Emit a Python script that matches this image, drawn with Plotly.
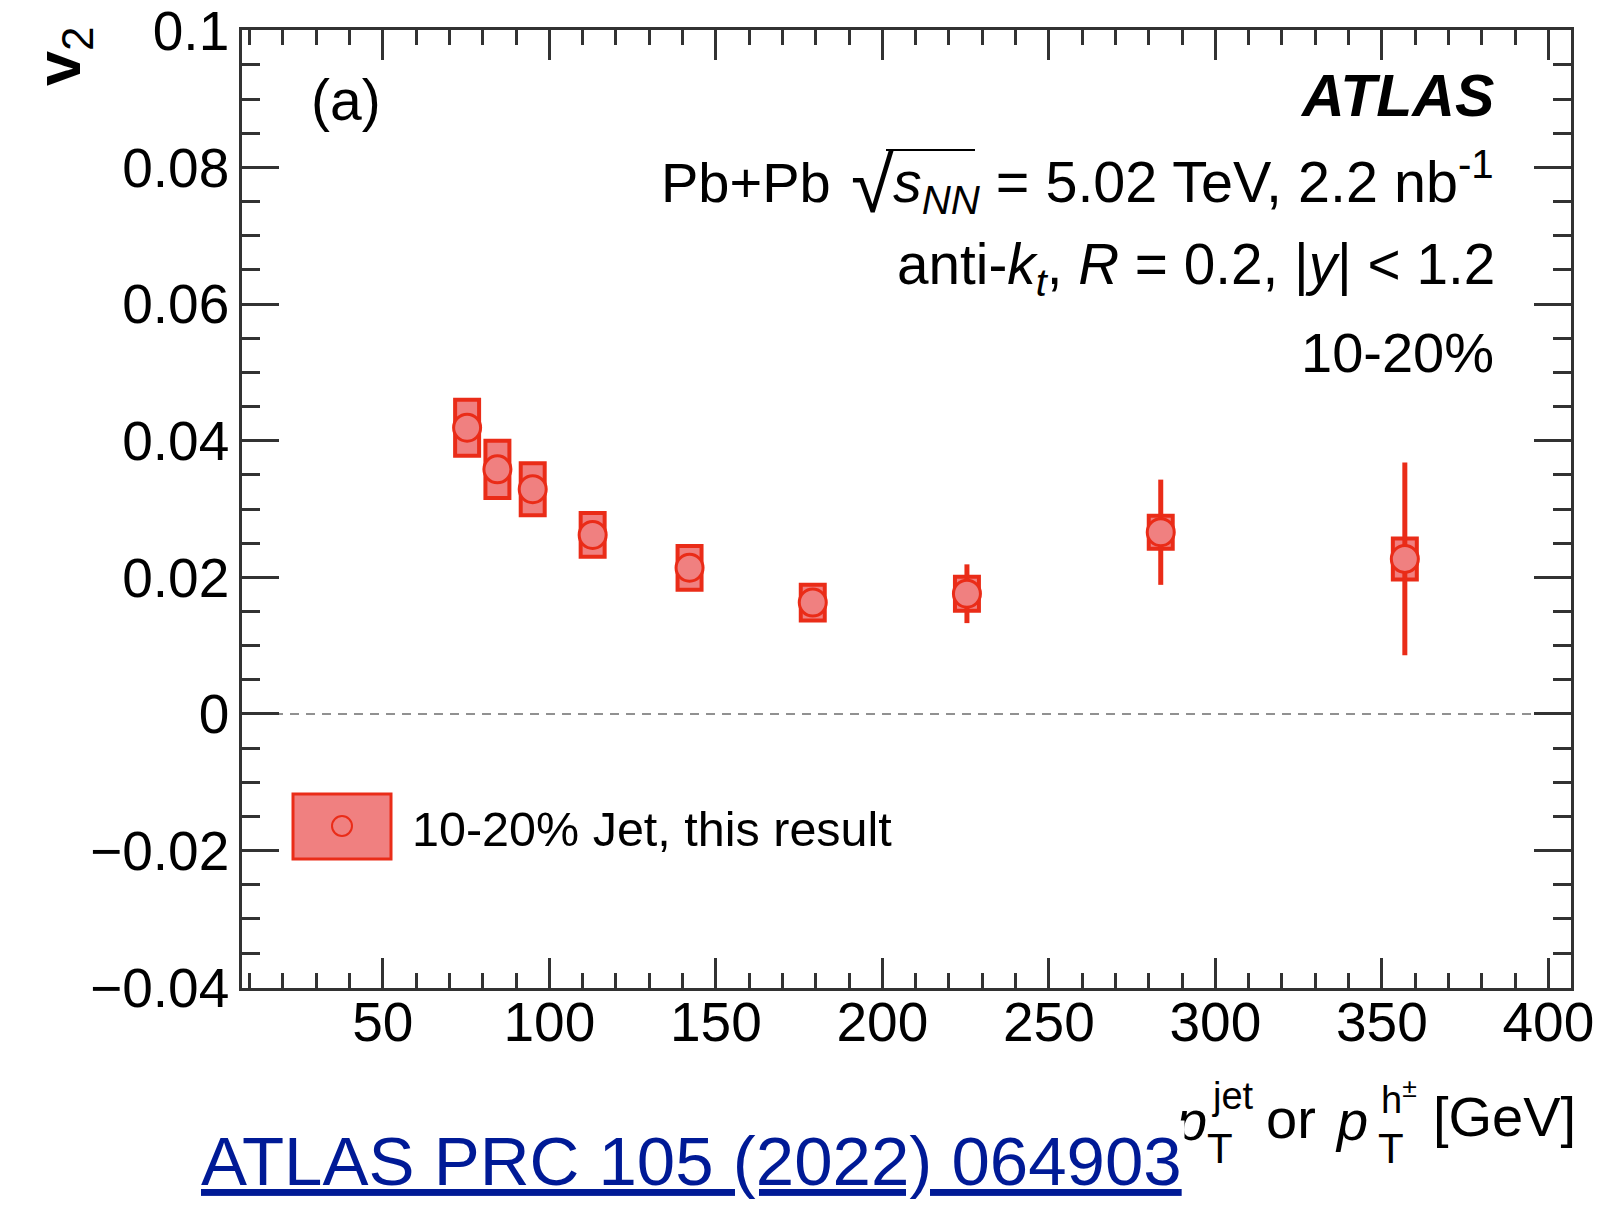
import plotly.graph_objects as go

# ---- data ----
pt = [75.3, 84.4, 95.0, 113.0, 142.1, 179.1, 225.4, 283.6, 356.9]
v2 = [0.0419, 0.0358, 0.0329, 0.0262, 0.0214, 0.0163, 0.0176, 0.0266, 0.0227]
v2_sys = [0.0041, 0.0042, 0.0038, 0.0032, 0.0032, 0.0026, 0.0025, 0.0024, 0.0030]
v2_stat = [0.0018, 0.0015, 0.0014, 0.0012, 0.0010, 0.0008, 0.0043, 0.0077, 0.0141]
box_halfwidth = 3.6  # GeV

x_tickvals = [50, 100, 150, 200, 250, 300, 350, 400]
x_ticktext = ["50", "100", "150", "200", "250", "300", "350", "400"]
y_tickvals = [-0.04, -0.02, 0, 0.02, 0.04, 0.06, 0.08, 0.1]
y_ticktext = ["\u22120.04", "\u22120.02", "0", "0.02", "0.04", "0.06", "0.08", "0.1"]

W, H = 1615, 1209
L, R, T, B = 242, 44, 30, 221
PW, PH = W - L - R, H - T - B

RED = "rgb(234,44,24)"
PINK = "rgb(240,128,128)"
FONT = "Liberation Sans"
AXC = "rgb(50,50,50)"


def px(xp):
    return (xp - L) / PW


def py(yp):
    return (H - B - yp) / PH


fig = go.Figure()

shapes = []
# zero dashed line
shapes.append(dict(type="line", xref="x domain", yref="y", x0=0, x1=1, y0=0, y1=0,
                   line=dict(color="rgb(110,110,110)", width=1.5, dash="9px,7px"), layer="below"))
# systematic boxes
for xv, yv, s in zip(pt, v2, v2_sys):
    shapes.append(dict(type="rect", xref="x", yref="y",
                       x0=xv - box_halfwidth, x1=xv + box_halfwidth, y0=yv - s, y1=yv + s,
                       fillcolor=PINK, line=dict(color=RED, width=4), layer="below"))

fig.add_trace(go.Scatter(
    x=pt, y=v2, mode="markers",
    error_y=dict(type="data", array=v2_stat, color=RED, thickness=5, width=0),
    marker=dict(symbol="circle", size=27, color=PINK, line=dict(color=RED, width=3)),
    showlegend=False, cliponaxis=False,
))

# legend (drawn manually, ROOT style)
shapes.append(dict(type="rect", xref="paper", yref="paper",
                   x0=px(293), x1=px(391), y0=py(859), y1=py(794),
                   fillcolor=PINK, line=dict(color=RED, width=3)))
shapes.append(dict(type="circle", xref="paper", yref="paper",
                   x0=px(332), x1=px(352), y0=py(836), y1=py(816),
                   fillcolor="rgba(0,0,0,0)", line=dict(color=RED, width=2)))

# sqrt overline
shapes.append(dict(type="line", xref="paper", yref="paper",
                   x0=px(886), x1=px(975), y0=py(150), y1=py(150),
                   line=dict(color="black", width=2)))

annotations = []


def ann(text, x, y, size, xanchor="left", yanchor="middle", color="black", **kw):
    annotations.append(dict(text=text, x=px(x), y=py(y), xref="paper", yref="paper",
                            xanchor=xanchor, yanchor=yanchor, showarrow=False,
                            font=dict(family=FONT, size=size, color=color), **kw))


ann("(a)", 309, 100, 57)
ann("<b><i>ATLAS</i></b>", 1496, 96, 59, xanchor="right")
ann("Pb+Pb", 833, 183, 56, xanchor="right")
ann("\u221a", 849, 185, 78)
ann("<i>s</i><sub><i>NN</i></sub> = 5.02 TeV, 2.2 nb<sup>-1</sup>", 1496, 183, 57.5, xanchor="right")
ann("anti-<i>k</i><sub><i>t</i></sub>, <i>R</i> = 0.2, |<i>y</i>| < 1.2", 1497, 268, 56.7, xanchor="right")
ann("10-20%", 1496, 352, 56, xanchor="right")
ann("10-20% Jet, this result", 410, 829, 48.5)

# y-axis title
ann("<b>v</b><sub>2</sub>", 62, 56, 63, xanchor="center", textangle=-90)

# x-axis title pieces
ann("<i>p</i>", 1172, 1120, 56)
ann("jet", 1210, 1096, 38)
ann("T", 1205, 1148, 42)
ann("or", 1264, 1118, 56)
ann("<i>p</i>", 1333, 1120, 56)
ann("h<sup>\u00b1</sup>", 1379, 1097, 38)
ann("T", 1376, 1148, 42)
ann("[GeV]", 1431, 1116, 56)

# link text on top
ann("<u>ATLAS PRC 105 (2022) 064903</u>", 198, 1162, 69, color="rgb(0,26,150)",
    bgcolor="white", borderpad=2)

axis_common = dict(showline=True, linecolor=AXC, linewidth=2.5, mirror="allticks",
                   ticks="inside", tickcolor=AXC, tickwidth=2.5, showgrid=False,
                   zeroline=False, tickfont=dict(family=FONT, size=55, color="black"),
                   tickmode="array", ticklabeloverflow="allow", automargin=False)

fig.update_layout(
    width=W, height=H, margin=dict(l=L, r=R, t=T, b=B, autoexpand=False),
    paper_bgcolor="white", plot_bgcolor="white",
    xaxis=dict(range=[7.7, 406.8], tickvals=x_tickvals, ticktext=x_ticktext, ticklen=30,
               minor=dict(dtick=10, tick0=0, ticklen=15, ticks="inside", tickcolor=AXC,
                          tickwidth=2.5, showgrid=False),
               ticklabelstandoff=-16,
               **axis_common),
    yaxis=dict(range=[-0.0401, 0.1001], tickvals=y_tickvals, ticktext=y_ticktext, ticklen=37,
               minor=dict(dtick=0.005, tick0=0, ticklen=18, ticks="inside", tickcolor=AXC,
                          tickwidth=2.5, showgrid=False),
               ticklabelstandoff=-1,
               **axis_common),
    shapes=shapes, annotations=annotations, showlegend=False,
)

fig.write_html("out.html")
